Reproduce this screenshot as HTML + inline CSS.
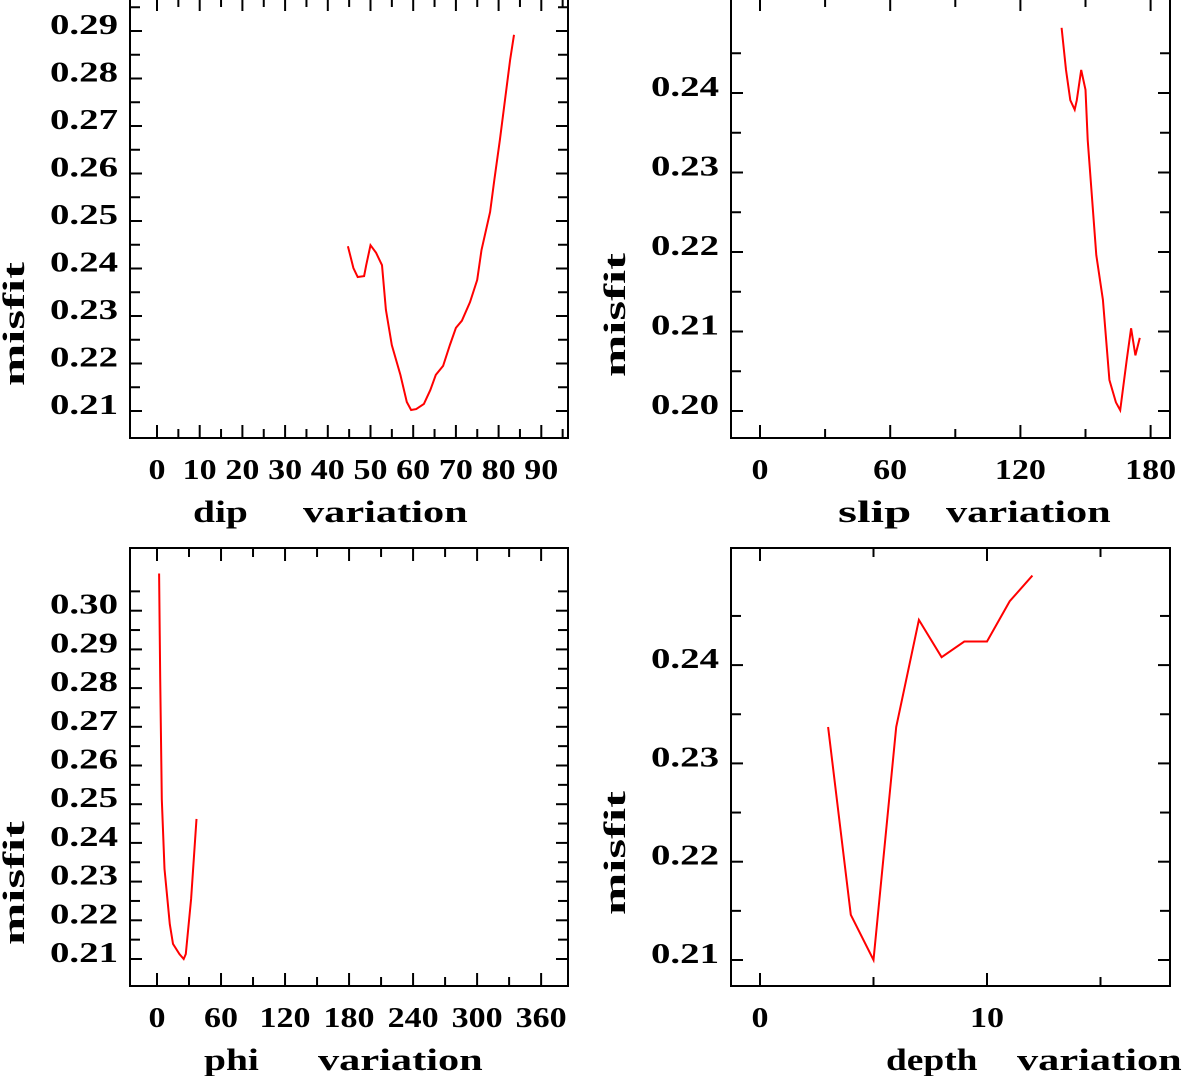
<!DOCTYPE html>
<html><head><meta charset="utf-8">
<style>
html,body{margin:0;padding:0;background:#fff;}
svg{display:block;}
text{font-family:"Liberation Serif",serif;font-weight:bold;fill:#000;}
</style></head>
<body>
<svg id="fig" width="1183" height="1076" viewBox="0 0 1183 1076"></svg>
<script>
// ---- data ----
const dipX = [44.7,46,47,48.5,49,50,51.3,52.7,53.6,55,57,58.5,59.5,60.7,62.5,64,65.3,67,68.6,70,71.4,73.3,75,76,78,79,80.3,81.5,82.7,83.6];
const dipY = [0.2447,0.2401,0.2382,0.2384,0.2407,0.2449,0.2433,0.2407,0.2313,0.2239,0.2176,0.2119,0.2102,0.2104,0.2115,0.2144,0.2176,0.2195,0.2239,0.2275,0.229,0.2329,0.2376,0.2439,0.2519,0.2586,0.2671,0.2755,0.2839,0.2892];
const dipXTicks = ['0','10','20','30','40','50','60','70','80','90'];
const dipYTicks = ['0.21','0.22','0.23','0.24','0.25','0.26','0.27','0.28','0.29'];

const slipX = [139,141,143,145,146,148,150,151,155,158,161,164,166,169,171,173,175];
const slipY = [0.2482,0.2429,0.2391,0.2379,0.2391,0.2429,0.2404,0.2341,0.2196,0.214,0.2039,0.2011,0.2001,0.2064,0.2104,0.207,0.2092];
const slipXTicks = ['0','60','120','180'];
const slipYTicks = ['0.20','0.21','0.22','0.23','0.24'];

const phiX = [2,3,4.5,7,12,15,21,25,27,32,37];
const phiY = [0.3096,0.2825,0.2513,0.2333,0.219,0.2139,0.2113,0.21,0.2113,0.2255,0.2462];
const phiXTicks = ['0','60','120','180','240','300','360'];
const phiYTicks = ['0.21','0.22','0.23','0.24','0.25','0.26','0.27','0.28','0.29','0.30'];

const depthX = [3,4,5,6,7,8,9,10,11,12];
const depthY = [0.2337,0.2146,0.21,0.2337,0.2446,0.2408,0.2424,0.2424,0.2465,0.2491];
const depthXTicks = ['0','10'];
const depthYTicks = ['0.21','0.22','0.23','0.24'];

const NS = 'http://www.w3.org/2000/svg';
const svg = document.getElementById('fig');
function mk(tag, attrs, parent){
  const e = document.createElementNS(NS, tag);
  for (const k in attrs) e.setAttribute(k, attrs[k]);
  (parent||svg).appendChild(e);
  return e;
}
function txt(parent, str, x, y, size, anchor, perChar, name){
  const t = mk('text', {x:x, y:y, 'font-size':size, 'text-anchor':anchor,
    textLength:(perChar*str.length), lengthAdjust:'spacingAndGlyphs'}, parent);
  t.textContent = str;
  
  
  return t;
}

function panel(cfg){
  const g = mk('g', {});
  
  
  const {L,R,T,B} = cfg.box;
  const sx = v => cfg.x0 + (v - cfg.xv0) * cfg.xs;
  const sy = v => cfg.y0 - (v - cfg.yv0) * cfg.ys;
  const frame = mk('rect', {x:L, y:T, width:R-L, height:B-T, fill:'none', stroke:'#000', 'stroke-width':2}, g);
  
  
  const xStep = cfg.xStep;
  for (let i = 0; i < cfg.xTicks.length; i++){
    const v = parseFloat(cfg.xTicks[i]);
    const px = sx(v);
    mk('line', {x1:px, y1:B, x2:px, y2:B-13, stroke:'#000', 'stroke-width':2}, g);
    mk('line', {x1:px, y1:T, x2:px, y2:T+13, stroke:'#000', 'stroke-width':2}, g);
    const mx = sx(v + xStep/2);
    if (mx < R-4){
      mk('line', {x1:mx, y1:B, x2:mx, y2:B-9, stroke:'#000', 'stroke-width':2}, g);
      mk('line', {x1:mx, y1:T, x2:mx, y2:T+9, stroke:'#000', 'stroke-width':2}, g);
    }
    txt(g, cfg.xTicks[i], px, B+41, 29, 'middle', 17, 'x-tick-label');
  }
  const yStep = cfg.yStep;
  for (let i = 0; i < cfg.yTicks.length; i++){
    const v = parseFloat(cfg.yTicks[i]);
    const py = sy(v);
    mk('line', {x1:L, y1:py, x2:L+12, y2:py, stroke:'#000', 'stroke-width':2}, g);
    mk('line', {x1:R, y1:py, x2:R-12, y2:py, stroke:'#000', 'stroke-width':2}, g);
    const my = sy(v + yStep/2);
    if (my > T+4){
      mk('line', {x1:L, y1:my, x2:L+10, y2:my, stroke:'#000', 'stroke-width':2}, g);
      mk('line', {x1:R, y1:my, x2:R-10, y2:my, stroke:'#000', 'stroke-width':2}, g);
    }
    txt(g, cfg.yTicks[i], L-12, py+3, 29, 'end', 17, 'y-tick-label');
  }
  const lowMy = sy(parseFloat(cfg.yTicks[0]) - yStep/2);
  if (lowMy < B-10){
    mk('line', {x1:L, y1:lowMy, x2:L+10, y2:lowMy, stroke:'#000', 'stroke-width':2}, g);
    mk('line', {x1:R, y1:lowMy, x2:R-10, y2:lowMy, stroke:'#000', 'stroke-width':2}, g);
  }
  const pts = cfg.xs_.map((v,i) => sx(v).toFixed(1) + ',' + sy(cfg.ys_[i]).toFixed(1)).join(' ');
  const pl = mk('polyline', {points:pts, fill:'none', stroke:'#ff0000', 'stroke-width':2}, g);
  
  
  const yt = mk('text', {x:0, y:0, 'font-size':31, 'text-anchor':'middle', textLength:124, lengthAdjust:'spacingAndGlyphs',
    transform:`translate(${cfg.yTitleX},${cfg.yTitleY}) rotate(-90)`}, g);
  yt.textContent = 'misfit';
  
  
  txt(g, cfg.xWord1, cfg.xW1X, cfg.xTitleY, 31, 'start', 18.3, 'x-axis-title-parameter');
  txt(g, 'variation', cfg.xW2X, cfg.xTitleY, 31, 'start', 18.3, 'x-axis-title-variation');
}

panel({name:'dip-panel', box:{L:130,R:568,T:-2,B:438}, x0:157, xv0:0, xs:4.27, y0:411, yv0:0.21, ys:4750,
  xStep:10, yStep:0.01, xTicks:dipXTicks, yTicks:dipYTicks, xs_:dipX, ys_:dipY,
  yTitleX:24, yTitleY:324, xWord1:'dip', xW1X:193, xW2X:303, xTitleY:522});
panel({name:'slip-panel', box:{L:731,R:1170,T:-2,B:438}, x0:760, xv0:0, xs:2.17, y0:411, yv0:0.20, ys:7950,
  xStep:60, yStep:0.01, xTicks:slipXTicks, yTicks:slipYTicks, xs_:slipX, ys_:slipY,
  yTitleX:625, yTitleY:315, xWord1:'slip', xW1X:838, xW2X:946, xTitleY:522});
panel({name:'phi-panel', box:{L:130,R:568,T:548,B:986}, x0:157, xv0:0, xs:1.067, y0:959, yv0:0.21, ys:3870,
  xStep:60, yStep:0.01, xTicks:phiXTicks, yTicks:phiYTicks, xs_:phiX, ys_:phiY,
  yTitleX:24, yTitleY:883, xWord1:'phi', xW1X:204, xW2X:318, xTitleY:1070});
panel({name:'depth-panel', box:{L:731,R:1170,T:548,B:986}, x0:760, xv0:0, xs:22.7, y0:960, yv0:0.21, ys:9830,
  xStep:10, yStep:0.01, xTicks:depthXTicks, yTicks:depthYTicks, xs_:depthX, ys_:depthY,
  yTitleX:625, yTitleY:853, xWord1:'depth', xW1X:886, xW2X:1017, xTitleY:1070});
</script>
</body></html>
